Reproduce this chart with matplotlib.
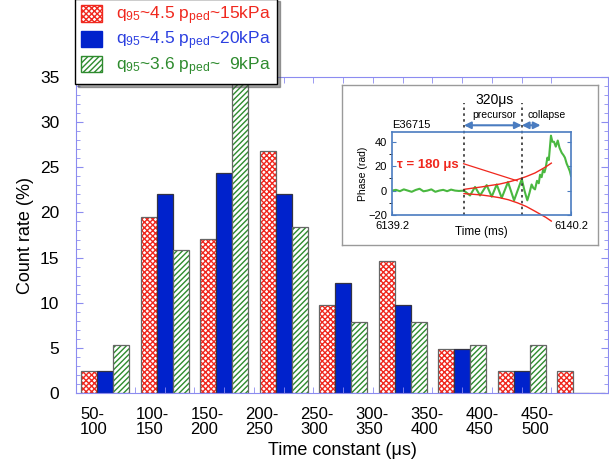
import matplotlib
matplotlib.use('Agg')
import matplotlib.pyplot as plt
import numpy as np
from matplotlib.patches import Patch

plt.rcParams['font.family'] = ['Liberation Sans', 'DejaVu Sans']
plt.rcParams['mathtext.fontset'] = 'custom'
plt.rcParams['mathtext.rm'] = 'Liberation Sans'
plt.rcParams['mathtext.it'] = 'Liberation Sans:italic'
plt.rcParams['hatch.linewidth'] = 1.0

# histogram data (count rate, %)
categories = ['50-\n100', '100-\n150', '150-\n200', '200-\n250', '250-\n300',
              '300-\n350', '350-\n400', '400-\n450', '450-\n500']
rate_15kpa = [2.4, 19.5, 17.1, 26.8, 9.8, 14.6, 4.9, 2.4, 2.4]
rate_20kpa = [2.4, 22.0, 24.4, 22.0, 12.2, 9.8, 4.9, 2.4, 0]
rate_9kpa = [5.3, 15.8, 34.2, 18.4, 7.9, 7.9, 5.3, 5.3, 0]
labels = [r'q$_{\mathrm{95}}$~4.5 p$_{\mathrm{ped}}$~15kPa',
          r'q$_{\mathrm{95}}$~4.5 p$_{\mathrm{ped}}$~20kPa',
          r'q$_{\mathrm{95}}$~3.6 p$_{\mathrm{ped}}$~  9kPa']

# inset: phase signal E36715 (ms, rad)
sig_t = [6139.200, 6139.222, 6139.244, 6139.266, 6139.288, 6139.310, 6139.332,
         6139.354, 6139.376, 6139.398, 6139.420, 6139.442, 6139.464, 6139.486,
         6139.508, 6139.530, 6139.552, 6139.574, 6139.602, 6139.636, 6139.664,
         6139.692, 6139.729, 6139.757, 6139.785, 6139.813, 6139.848, 6139.882,
         6139.925, 6139.940, 6139.956, 6139.968, 6139.980, 6139.990, 6139.999,
         6140.010, 6140.020, 6140.027, 6140.036, 6140.044, 6140.052, 6140.059,
         6140.068, 6140.076, 6140.082, 6140.088, 6140.096, 6140.105, 6140.115,
         6140.126, 6140.136, 6140.148, 6140.158, 6140.166, 6140.176, 6140.185,
         6140.193, 6140.200]
sig_v = [0, 0.6, -0.5, 1.0, 0, -1.0, 0.5, 1.5, -0.6, 0, 1.0, -1.0, 0, 0.6,
         -0.5, 0.8, 0, -0.3, 0, -4, 3, -4, 4.5, -5, 5, -6, 7, -8,
         9.5, 0, -8, -2, 5, 2, 1, 8, 6, 13, 11, 17, 15, 19,
         27, 25, 35, 45, 40, 40, 36, 41, 35, 31, 29, 27, 22, 19,
         16, 12]
env_t = [6139.602, 6139.65, 6139.70, 6139.75, 6139.80, 6139.85, 6139.90, 6139.95,
         6140.00, 6140.03, 6140.06, 6140.09]
env_up = [1.0, 2.0, 3.0, 4.2, 5.3, 7.0, 9.0, 11.5, 14.5, 17.0, 19.5, 22.5]
env_lo = [-2.5, -3.0, -3.6, -4.6, -5.8, -7.5, -10.0, -13.0, -17.0, -19.5, -22.0, -25.0]
tau_t = [6139.60, 6139.90]
tau_v = [22, 8]

red = '#f0281e'
blue = '#0022cc'
green = '#2e8b2e'
frame = '#8c8cf0'
arrow_c = '#4a7cc0'

fig = plt.figure(figsize=(6.09, 4.68), dpi=100)
ax = fig.add_axes([76 / 609, 75 / 468, 532 / 609, 316 / 468])

x = np.arange(len(categories))
w = 0.27
ax.bar(x - w, rate_15kpa, w, color='white', edgecolor=red, hatch='xxxxxx', linewidth=0)
ax.bar(x - w, rate_15kpa, w, fill=False, edgecolor='#666666', linewidth=0.9)
ax.bar(x, rate_20kpa, w, color=blue, edgecolor='#333344', linewidth=0.9)
ax.bar(x + w, rate_9kpa, w, color='white', edgecolor=green, hatch='//////', linewidth=0)
ax.bar(x + w, rate_9kpa, w, fill=False, edgecolor='#666666', linewidth=0.9)

ax.set_xlim(-0.49, 8.45)
ax.set_ylim(0, 35)
ax.set_yticks(np.arange(0, 36, 5))
ax.set_yticks(np.arange(0, 36, 1), minor=True)
ax.tick_params(axis='y', which='both', direction='in', left=True, right=True,
               colors=frame, labelcolor='black', labelsize=12.5, pad=12)
ax.tick_params(axis='y', which='major', length=5)
ax.tick_params(axis='y', which='minor', length=3)
# category labels, left aligned
ax.set_xticks(-0.42 + 0.926 * x, categories, ha='left', fontsize=12, linespacing=1.05)
ax.tick_params(axis='x', which='major', length=0, pad=10)
ax.set_xticks(np.arange(0.5, 8, 0.5), minor=True)
ax.tick_params(axis='x', which='minor', direction='in', length=4, top=True,
               bottom=True, colors=frame)
for s in ax.spines.values():
    s.set_color(frame)
ax.set_xlabel('Time constant (μs)', fontsize=13, labelpad=3)
ax.set_ylabel('Count rate (%)', fontsize=13, labelpad=4)

handles = [Patch(facecolor='white', edgecolor=red, hatch='xxxxxx'),
           Patch(facecolor=blue, edgecolor=blue),
           Patch(facecolor='white', edgecolor=green, hatch='//////')]
leg = fig.legend(handles, labels, loc='upper left', bbox_to_anchor=(75 / 609, 1.003),
                 borderaxespad=0, fontsize=12.5, labelcolor=[red, '#2b3fe0', green],
                 shadow=True, fancybox=False, edgecolor='black', framealpha=1,
                 handlelength=1.2, handleheight=1.1, labelspacing=0.15,
                 borderpad=0.35, handletextpad=0.8)
leg.get_frame().set_linewidth(1.0)

# inset
box = fig.add_axes([342 / 609, 223 / 468, 256 / 609, 160 / 468])
box.set_xticks([])
box.set_yticks([])
for s in box.spines.values():
    s.set_color('#9a9a9a')
    s.set_linewidth(1.0)

ins = fig.add_axes([392 / 609, 253 / 468, 179 / 609, 83 / 468])
ins.plot(sig_t, sig_v, color='#4ab840', lw=1.5)
ins.plot(env_t, env_up, color=red, lw=1.0, clip_on=False)
ins.plot(env_t, env_lo, color=red, lw=1.0, clip_on=False)
ins.plot(tau_t, tau_v, color=red, lw=0.9)
ins.set_xlim(6139.2, 6140.2)
ins.set_ylim(-20, 48)
ins.set_yticks([-20, 0, 20, 40])
ins.set_yticks(np.arange(-20, 48, 10), minor=True)
ins.set_xticks([6139.2, 6140.2], ['6139.2', '6140.2'])
ins.tick_params(labelsize=8, direction='in', colors=arrow_c, labelcolor='black',
                right=True, top=False, length=3)
ins.tick_params(axis='x', pad=4)
for s in ins.spines.values():
    s.set_color(arrow_c)
    s.set_linewidth(1.2)
ins.set_xlabel('Time (ms)', fontsize=8.5, labelpad=-3)
ins.set_ylabel('Phase (rad)', fontsize=7.5, labelpad=0)

for tv in [6139.602, 6139.925]:
    ins.plot([tv, tv], [-20, 72], color='#333333', lw=1.2, ls=(0, (1.5, 2)), clip_on=False)
ins.annotate('', xy=(6139.602, 53.5), xytext=(6139.925, 53.5), annotation_clip=False,
             arrowprops=dict(arrowstyle='<|-|>', color=arrow_c, lw=1.5, mutation_scale=10,
                             shrinkA=0, shrinkB=0))
ins.annotate('', xy=(6139.925, 53.5), xytext=(6140.03, 53.5), annotation_clip=False,
             arrowprops=dict(arrowstyle='<|-|>', color=arrow_c, lw=1.5, mutation_scale=10,
                             shrinkA=0, shrinkB=0))
ins.text(6139.774, 74.5, '320μs', fontsize=10, ha='center', va='center')
ins.text(6139.774, 62, 'precursor', fontsize=7.5, ha='center', va='center')
ins.text(6140.064, 62, 'collapse', fontsize=7.5, ha='center', va='center')
ins.text(6139.2, 50, 'E36715', fontsize=8, ha='left', va='bottom')
ins.text(6139.23, 21, 'τ = 180 μs', fontsize=9.5, fontweight='bold', color=red,
         ha='left', va='center')

fig.savefig('out.png', dpi=100)
